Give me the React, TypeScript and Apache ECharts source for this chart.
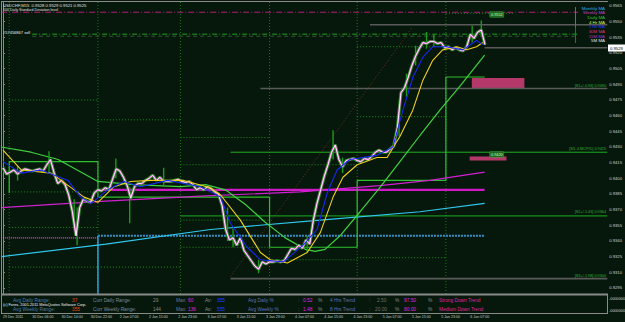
import React, { useEffect, useRef } from 'react';
import * as echarts from 'echarts';

const BG = '#06180b';
const FONT = 'Liberation Sans, Arial, sans-serif';

// x axis: hours since 29 Dec 22:00 (trading hours only)
const timeLabels = ['29 Dec 2011', '30 Dec 06:00', '30 Dec 14:00', '30 Dec 22:00', '2 Jan 07:00', '2 Jan 15:00', '2 Jan 23:00', '3 Jan 07:00', '3 Jan 15:00', '3 Jan 23:00', '4 Jan 07:00', '4 Jan 15:00', '4 Jan 23:00', '5 Jan 07:00', '5 Jan 15:00', '5 Jan 23:00', '6 Jan 07:00'];
const hoursPerLabel = 8;
const priceTicks = [0.9295, 0.931, 0.9325, 0.934, 0.9355, 0.937, 0.9385, 0.94, 0.9415, 0.943, 0.9445, 0.946, 0.9475, 0.949, 0.9505, 0.952, 0.9535, 0.955, 0.9565];

// hourly close, USDCHF
const closeByHour = [
  0.9410, 0.9404, 0.9406, 0.9408, 0.9404, 0.9407, 0.9409, 0.9408, 0.9407, 0.9408,
  0.9409, 0.9407, 0.9413, 0.9418, 0.9405, 0.9395, 0.9398, 0.9394, 0.9384, 0.9368,
  0.9345, 0.9372, 0.9380, 0.9378, 0.9377, 0.9386, 0.9389, 0.9388, 0.9391, 0.9389,
  0.9399, 0.9409, 0.9407, 0.9401, 0.9393, 0.9381, 0.9392, 0.9395, 0.9395, 0.9398,
  0.9400, 0.9403, 0.9398, 0.9401, 0.9397, 0.9397, 0.9397, 0.9398, 0.9399, 0.9397,
  0.9396, 0.9397, 0.9394, 0.9389, 0.9391, 0.9389, 0.9392, 0.9390, 0.9387, 0.9385,
  0.9374, 0.9351, 0.9341, 0.9343, 0.9336, 0.9343, 0.9331, 0.9326, 0.9321, 0.9316,
  0.9313, 0.9320, 0.9318, 0.9320, 0.9320, 0.9321, 0.9320, 0.9321, 0.9327, 0.9333,
  0.9332, 0.9336, 0.9333, 0.9341, 0.9337, 0.9360, 0.9376, 0.9389, 0.9402, 0.9413,
  0.9425, 0.9432, 0.9418, 0.9411, 0.9417, 0.9418, 0.9419, 0.9417, 0.9416, 0.9419,
  0.9418, 0.9421, 0.9425, 0.9427, 0.9425, 0.9425, 0.9428, 0.9431, 0.9448, 0.9482,
  0.9487, 0.9497, 0.9508, 0.9517, 0.9524, 0.9530, 0.9529, 0.9531, 0.9531, 0.9529,
  0.9530, 0.9525, 0.9526, 0.9523, 0.9525, 0.9523, 0.9522, 0.9526, 0.9538, 0.9534,
  0.9540, 0.9542, 0.9528,
];
// notable bar wicks: [hour, low, high]
const wicks = [
  [4, 0.9398, 0.9412], [12.6, 0.9405, 0.9426], [19.5, 0.9352, 0.938], [20.3, 0.9336, 0.9372],
  [30.9, 0.94, 0.9419], [34.7, 0.9357, 0.9392], [44, 0.9392, 0.941], [61.5, 0.934, 0.9372],
  [63, 0.9334, 0.9352], [70, 0.9309, 0.9322], [83.3, 0.9329, 0.9345], [90.4, 0.9418, 0.9446],
  [93, 0.9405, 0.942], [108.5, 0.944, 0.947], [110.5, 0.9478, 0.95], [113, 0.9508, 0.9527],
  [116, 0.9524, 0.954], [118, 0.9526, 0.9538], [128.5, 0.953, 0.9546], [131, 0.9536, 0.9551],
];

// moving averages: [hour, price]
const blueMA = [[0, 0.9416], [5, 0.9405], [10.4, 0.9408], [17.8, 0.9398], [21.3, 0.9382], [24.1, 0.9376], [28.7, 0.9389], [33.1, 0.9397], [37.7, 0.9392], [45.1, 0.9398], [54.1, 0.9392], [59.6, 0.9382], [62.3, 0.9357], [66.9, 0.9334], [70.5, 0.9322], [76.8, 0.932], [82.2, 0.9336], [86, 0.9351], [88.8, 0.9386], [91.5, 0.9408], [95, 0.9418], [102.4, 0.9422], [106.8, 0.943], [109.5, 0.9465], [112.3, 0.9497], [115, 0.9516], [117.7, 0.9526], [121.5, 0.9526], [125.9, 0.9523], [129.7, 0.9532], [131.4, 0.9528]];
const yellowMA = [[0, 0.9427], [5, 0.9408], [13.2, 0.9405], [22.2, 0.9382], [26, 0.9377], [30.4, 0.9392], [35, 0.9397], [40.5, 0.9398], [49.5, 0.9398], [56.8, 0.9391], [59.6, 0.9384], [65, 0.936], [70.5, 0.9329], [73.2, 0.9322], [77.9, 0.9319], [83.3, 0.9329], [86.9, 0.9348], [90.4, 0.9382], [93.1, 0.9401], [97, 0.9413], [102.4, 0.942], [105.2, 0.942], [108.7, 0.944], [112.2, 0.9465], [115, 0.9494], [117.7, 0.9513], [120.4, 0.9523], [124.3, 0.9526], [127, 0.9523], [129.7, 0.9526], [131.4, 0.953]];
const greenMA = [[-0.5, 0.943], [7.7, 0.9425], [15.1, 0.9418], [21.3, 0.9406], [26, 0.9397], [35.8, 0.9394], [48.6, 0.9392], [55.5, 0.9394], [60.9, 0.9389], [66.4, 0.9375], [71.8, 0.9358], [77.3, 0.9343], [82.8, 0.9332], [85.5, 0.933], [88.2, 0.9332], [92.3, 0.9345], [97.8, 0.9368], [103.2, 0.9391], [108.7, 0.9416], [114.2, 0.9441], [119.6, 0.9465], [125.1, 0.9488], [131.9, 0.9518]];
const magentaMA = [[-0.5, 0.9372], [26.8, 0.9378], [54.1, 0.9383], [81.4, 0.9387], [103.2, 0.9393], [116.9, 0.9398], [131.9, 0.9406]];
const cyanMA = [[-0.5, 0.9325], [28.2, 0.9337], [56.8, 0.9351], [86.9, 0.936], [114.2, 0.9368], [131.9, 0.9376]];
const dailyOpenStep = [[1.7, 0.9386], [1.7, 0.9416], [26, 0.9416], [26, 0.9382], [73, 0.9382], [73, 0.9334], [97, 0.9334], [97, 0.9398], [121.3, 0.9398], [121.3, 0.9497], [131.9, 0.9497]];
const dayStarts = [1.7, 26, 48.6, 73, 97, 121.3];

// [fromHour, toHour, price]
const dottedLevels = [
  [1.7, 26, 0.9475], [1.7, 26, 0.9387], [1.7, 26, 0.9353], [1.7, 26, 0.9315],
  [26, 48.6, 0.9456], [26, 48.6, 0.9315],
  [48.6, 73, 0.9439], [48.6, 73, 0.9413], [48.6, 73, 0.936], [48.6, 73, 0.9334],
  [73, 97, 0.9413], [73, 97, 0.9322],
  [97, 121.3, 0.9526], [97, 121.3, 0.9459], [97, 121.3, 0.9324],
  [121.3, 140, 0.9558],
];
const solidGreenLevels = [[62.3, 165.5, 0.9425], [48.6, 165.5, 0.9364]];
const grayLevels = [[62.3, 165.5, 0.9304], [70.5, 165.5, 0.9486], [100.5, 165.5, 0.9547], [131.9, 165.5, 0.9525]];
const pivotLevel = [26, 131.9, 0.9389];
const blueLevel = [26, 131.9, 0.9345];
const prevMagentaLevel = [-0.5, 26, 0.9343];
const sellOrder = [8, 157.5, 0.9538];
const stdDevLevel = [-0.5, 157.5, 0.9559];
const trendLine = [[62.3, 0.9306], [112.2, 0.9545]];
// zones: [fromHour, toHour, priceA, priceB]
const zones = [[128.4, 142.8, 0.9496, 0.9486], [127.8, 137.9, 0.9421, 0.9417]];

const levelTags = [
  { text: '[S1+/-0.96] 0.9490', y: 86 },
  { text: '[S/L 4.MCP/D] 0.9425', y: 149 },
  { text: '[S2+/-1.43] 0.9364', y: 212 },
  { text: '[S3+/-1.98] 0.9300', y: 276 },
];
const legendItems = [
  { text: 'Monthly MA', color: '#30a8f0' },
  { text: 'Weekly MA', color: '#c040c0' },
  { text: 'Daily MA', color: '#30c030' },
  { text: '4 Hr MA', color: '#e0f040' },
  { text: '1 Hr MA', color: '#2838ff' },
  { text: '30M MA', color: '#e03070' },
  { text: '15M MA', color: '#a030d0' },
  { text: '5M MA', color: '#e8e8e8' },
];
const infoRow1 = [
  ['Avg Daily Range:', 13, '#5078a8'], ['37', 72, '#e04a1a'], ['Curr Daily Range:', 93, '#7888a0'], ['29', 153, '#8a8a8a'],
  ['Max:', 176, '#6a78a8'], ['60', 188, '#e020e0'], ['Av:', 205, '#8a8a8a'], ['355', 217, '#2040ff'],
  ['Avg Daily %', 248, '#5a70c0'], [':', 298, '#8a8a8a'], ['0.52', 303, '#e020e0'], ['%', 318, '#8a8a8a'],
  ['4 Hrs Trend', 330, '#5a70c0'], [':', 369, '#8a8a8a'], ['2.50', 377, '#707070'], ['%', 395, '#8a8a8a'],
  ['97.50', 404, '#e020e0'], ['%', 428, '#8a8a8a'], ['Strong Down Trend', 439, '#e020a0'],
];
const infoRow2 = [
  ['Avg Weekly Range:', 13, '#5078a8'], ['355', 72, '#e04a1a'], ['Curr Weekly Range:', 93, '#7888a0'], ['144', 153, '#8a8a8a'],
  ['Max:', 176, '#6a78a8'], ['136', 188, '#e020e0'], ['Av:', 205, '#8a8a8a'], ['555', 217, '#2040ff'],
  ['Avg Weekly %', 248, '#5a70c0'], [':', 298, '#8a8a8a'], ['1.48', 303, '#e020e0'], ['%', 318, '#8a8a8a'],
  ['8 Hrs Trend', 330, '#5a70c0'], [':', 369, '#8a8a8a'], ['20.00', 375, '#707070'], ['%', 395, '#8a8a8a'],
  ['80.00', 404, '#e020e0'], ['%', 428, '#8a8a8a'], ['Medium Down Trend', 439, '#e020a0'],
];

const X0 = -0.5, X1 = 165.2, Y0 = 0.928925, Y1 = 0.95688;

function line(data: any[], color: string, width: number, type: any = 'solid', z = 2) {
  return { type: 'line', data, symbol: 'none', silent: true, z, clip: true, lineStyle: { color, width, type }, animation: false };
}
function hseg(s: number[], color: string, width: number, type: any = 'solid', z = 2) {
  return line([[s[0], s[2]], [s[1], s[2]]], color, width, type, z);
}
function txt(text: string, x: number, y: number, color: string, size: number, extra: any = {}) {
  return { type: 'text', x, y, z: 60, silent: true, style: { text, fill: color, fontSize: size, fontFamily: FONT, textVerticalAlign: 'middle', ...extra } };
}
function gline(x1: number, y1: number, x2: number, y2: number, color: string, w: number) {
  return { type: 'line', z: 55, silent: true, shape: { x1, y1, x2, y2 }, style: { stroke: color, lineWidth: w } };
}

function buildOption() {
  const series: any[] = [];
  dayStarts.forEach((u) => series.push(line([[u, Y0], [u, Y1]], '#1d7a1d', 1, [1, 2], 1)));
  dottedLevels.forEach((s) => series.push(hseg(s, '#1f8f1f', 1, [1, 2], 1)));
  series.push(line(trendLine, '#6a3424', 1, [1, 2], 1));
  solidGreenLevels.forEach((s) => series.push(hseg(s, '#1fae1f', 1, 'solid', 2)));
  grayLevels.forEach((s) => series.push(hseg(s, '#5a5a5a', 1.6, 'solid', 2)));
  series.push(hseg(stdDevLevel, '#b0207a', 1, [6, 2, 1, 2], 2));
  series.push(hseg(sellOrder, '#22a022', 1, [5, 2, 1, 2], 2));
  series.push(hseg([sellOrder[0], sellOrder[1], sellOrder[2] - 0.0002], '#2c5a2c', 1, [4, 3], 2));
  series.push(hseg(prevMagentaLevel, '#ff40ff', 1.2, [1, 1], 2));
  series.push(hseg(blueLevel, '#3a8fc8', 2, [2, 1], 2));
  series.push(line([[26, blueLevel[2]], [26, Y0]], '#2aa0e0', 1.5, 'solid', 2));
  series.push(hseg(pivotLevel, '#d018c8', 2.2, 'solid', 3));
  series.push(line(dailyOpenStep, '#2ec02e', 1.2, 'solid', 3));
  series.push(line(cyanMA, '#30c8f0', 1.2, 'solid', 3));
  series.push(line(magentaMA, '#d020d0', 1.2, 'solid', 3));
  series.push(line(greenMA, '#40d040', 1.2, 'solid', 3));
  wicks.forEach((w) => series.push(line([[w[0], w[1]], [w[0], w[2]]], '#1a9a1a', 1.4, 'solid', 4)));
  const pts = closeByHour.map((p, i) => [i, p]);
  const priceBase: any = line(pts, '#159a15', 3.2, 'solid', 4);
  priceBase.markArea = {
    silent: true,
    itemStyle: { color: '#b4386a' },
    data: zones.map((zn) => [{ coord: [zn[0], zn[2]] }, { coord: [zn[1], zn[3]] }]),
  };
  series.push(priceBase);
  series.push(line(pts, '#d848c8', 1.8, 'solid', 5));
  series.push(line(pts, '#ffffff', 0.9, 'solid', 6));
  series.push(line(yellowMA, '#f0d020', 1.1, 'solid', 7));
  series.push(line(blueMA, '#1828f0', 1.1, 'solid', 7));

  const graphic: any[] = [];
  // frame and sub-window
  graphic.push({ type: 'rect', z: 50, silent: true, shape: { x: 2, y: 295, width: 605, height: 18 }, style: { fill: BG } });
  graphic.push(gline(1.5, 1, 1.5, 314, '#8a8a8a', 1));
  graphic.push(gline(1, 1.5, 608, 1.5, '#8a8a8a', 1));
  graphic.push(gline(1, 294.5, 608, 294.5, '#8a8a8a', 2));
  graphic.push(gline(1, 313.5, 608, 313.5, '#8a8a8a', 1));
  graphic.push(gline(607.5, 294, 607.5, 314, '#8a8a8a', 1));
  // titles
  graphic.push(txt('USDCHF,M15  0.9528 0.9529 0.9521 0.9525', 3, 5, '#e0e0e0', 4.2));
  graphic.push(txt('100 Daily Standard Deviation level', 3, 10, '#e0e0e0', 3.6));
  graphic.push(txt('#57456867 sell', 3, 32.5, '#f0f0f0', 4));
  // level tags
  levelTags.forEach((t) => graphic.push(txt(t.text, 606, t.y, '#35b035', 3.8, { textAlign: 'right' })));
  // boxed price tags
  graphic.push(txt('0.9552', 490, 14.5, '#c8ffc8', 3.8, { backgroundColor: '#1f6a1f', borderColor: '#40a040', borderWidth: 0.5, padding: [0.5, 1] }));
  graphic.push(txt('0.9420', 490, 154.5, '#c8ffc8', 3.8, { backgroundColor: '#1f6a1f', borderColor: '#40a040', borderWidth: 0.5, padding: [0.5, 1] }));
  // legend
  legendItems.forEach((l, i) => graphic.push(txt(l.text, 605, 8 + i * 4.7, l.color, 4.4, { textAlign: 'right' })));
  graphic.push(gline(575.5, 7, 575.5, 27, '#22a022', 1));
  graphic.push(gline(575.5, 27, 575.5, 43, '#b02080', 1));
  // current price box
  graphic.push({ type: 'rect', z: 58, silent: true, shape: { x: 608, y: 44.5, width: 17, height: 7 }, style: { fill: '#ffffff' } });
  graphic.push(txt('0.9529', 610, 48, '#000000', 4.2));
  // sub-window axis labels
  graphic.push(txt('-0000000', 609, 299, '#d0d0d0', 3.8));
  graphic.push(txt('-0000000', 609, 311, '#d0d0d0', 3.8));
  // info rows
  infoRow1.forEach((r) => graphic.push(txt(r[0] as string, r[1] as number, 300, r[2] as string, 4.8)));
  graphic.push(txt('(c) Forex, 2001-2011 MetaQuotes Software Corp.', 3, 304.6, '#f0f0f0', 3.8));
  infoRow2.forEach((r) => graphic.push(txt(r[0] as string, r[1] as number, 309.3, r[2] as string, 4.8)));

  return {
    animation: false,
    backgroundColor: BG,
    grid: { left: 0, right: 18, top: 2, bottom: 28 },
    xAxis: {
      type: 'value', min: X0, max: X1,
      axisLine: { show: false }, splitLine: { show: false },
      axisTick: { show: false },
      axisLabel: {
        customValues: timeLabels.map((_, i) => i * hoursPerLabel),
        formatter: (v: number) => timeLabels[Math.round(v / hoursPerLabel)] || '',
        fontSize: 3.6, color: '#c8c8c8', fontFamily: FONT, align: 'left', verticalAlign: 'top', margin: 21,
      },
    },
    yAxis: {
      type: 'value', position: 'right', min: Y0, max: Y1,
      axisLine: { show: true, lineStyle: { color: '#8a8a8a', width: 1 } },
      axisTick: { show: true, length: 2, customValues: priceTicks, lineStyle: { color: '#8a8a8a' } },
      axisLabel: { customValues: priceTicks, formatter: (v: number) => v.toFixed(4), fontSize: 4.2, color: '#d0d0d0', fontFamily: FONT, margin: 3 },
      splitLine: { show: false },
    },
    series,
    graphic,
  };
}

export default function App() {
  const ref = useRef<HTMLDivElement>(null);
  useEffect(() => {
    const chart = echarts.init(ref.current!, null, { renderer: 'svg' });
    chart.setOption(buildOption() as any);
    return () => chart.dispose();
  }, []);
  return <div ref={ref} style={{ position: 'absolute', left: 0, top: 0, width: 625, height: 322, background: BG }} />;
}
